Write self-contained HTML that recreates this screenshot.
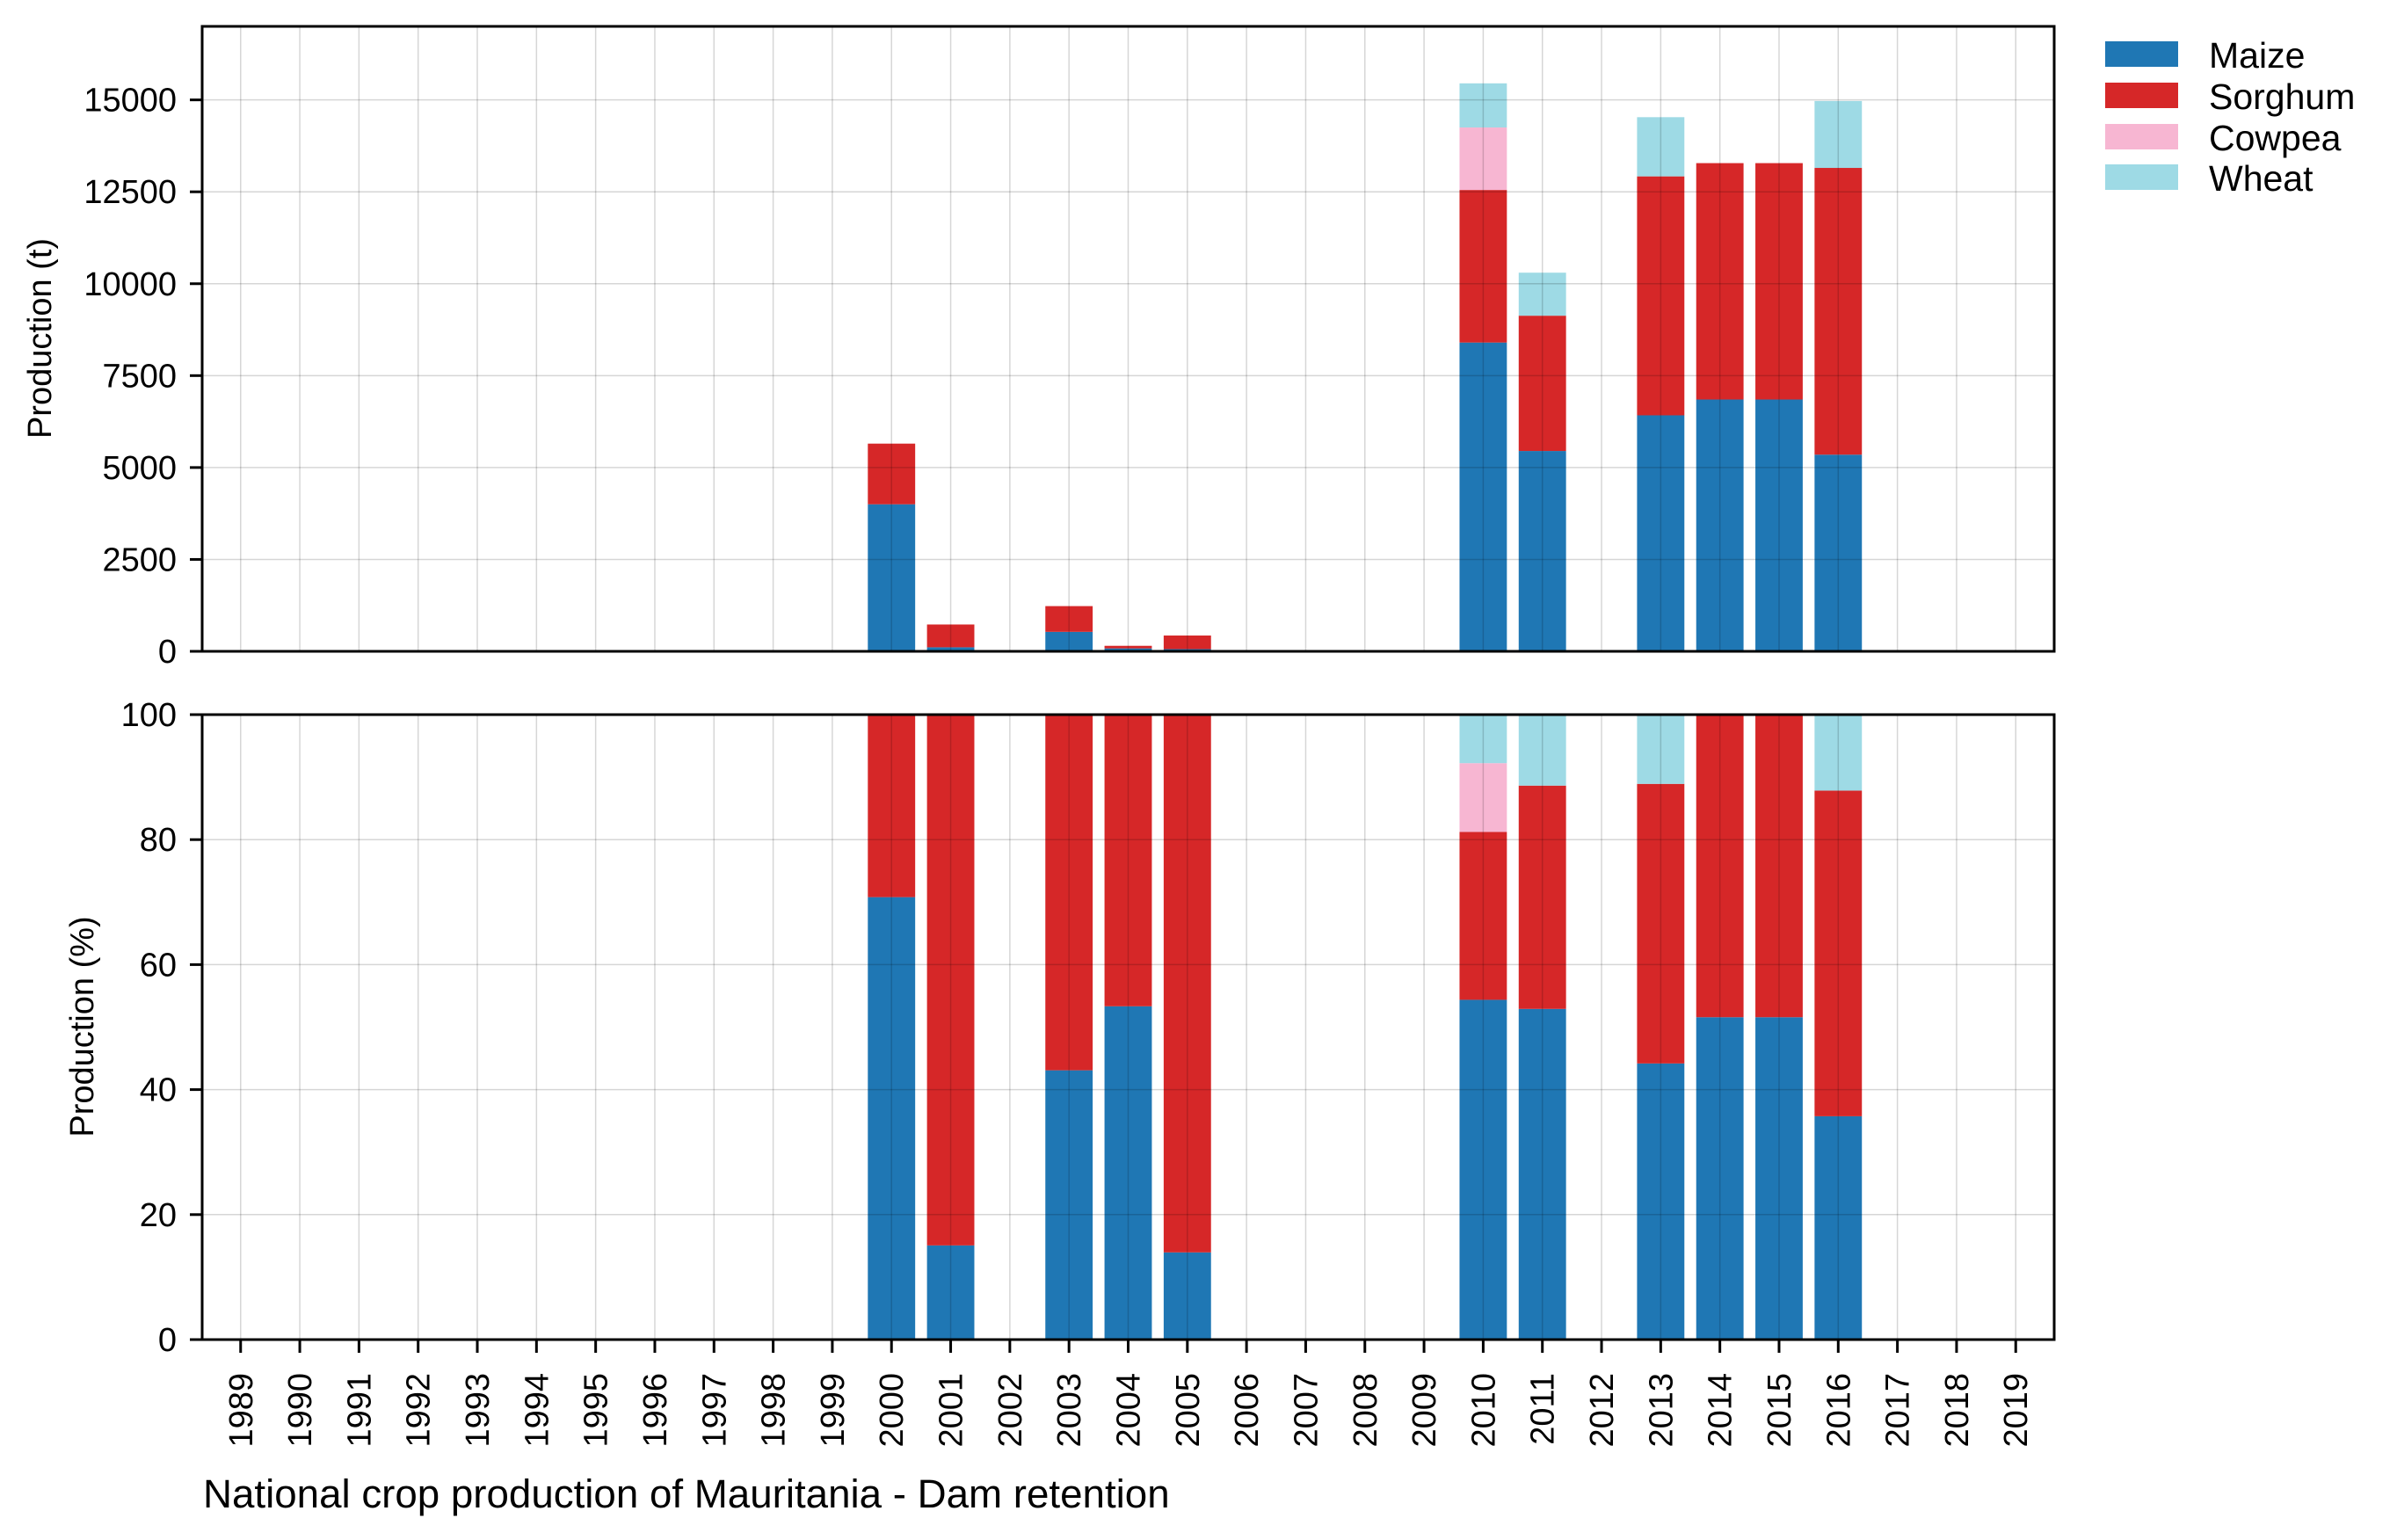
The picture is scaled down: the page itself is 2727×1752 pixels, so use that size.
<!DOCTYPE html>
<html><head><meta charset="utf-8"><style>
html,body{margin:0;padding:0;background:#fff;}
svg{display:block;font-family:"Liberation Sans",Arial,sans-serif;}
</style></head><body>
<svg id="chart" width="2727" height="1752" viewBox="0 0 2727 1752" xmlns="http://www.w3.org/2000/svg">
<g id="top"></g>
<g id="bot"></g>
<text x="0" y="0" transform="translate(58,385) rotate(-90)" text-anchor="middle" font-size="38">Production (t)</text>
<text x="0" y="0" transform="translate(106,1168) rotate(-90)" text-anchor="middle" font-size="38">Production (%)</text>
<text x="231" y="1715" font-size="45.7">National crop production of Mauritania - Dam retention</text>
<g>
<rect x="2395" y="47" width="83" height="29" fill="#1f77b4"/>
<text x="2513" y="77" font-size="41">Maize</text>
<rect x="2395" y="94" width="83" height="29" fill="#d62728"/>
<text x="2513" y="124" font-size="41">Sorghum</text>
<rect x="2395" y="141" width="83" height="29" fill="#f7b6d2"/>
<text x="2513" y="171" font-size="41">Cowpea</text>
<rect x="2395" y="187" width="83" height="29" fill="#9edae5"/>
<text x="2513" y="217" font-size="41">Wheat</text>
</g>
</svg>
<script>
const years = [1989,1990,1991,1992,1993,1994,1995,1996,1997,1998,1999,2000,2001,2002,2003,2004,2005,2006,2007,2008,2009,2010,2011,2012,2013,2014,2015,2016,2017,2018,2019];
const maize   = [0,0,0,0,0,0,0,0,0,0,0,4000,110,0,530,80,60,0,0,0,0,8400,5450,0,6420,6850,6850,5350,0,0,0];
const sorghum = [0,0,0,0,0,0,0,0,0,0,0,1650,620,0,700,70,370,0,0,0,0,4150,3680,0,6500,6430,6430,7800,0,0,0];
const cowpea  = [0,0,0,0,0,0,0,0,0,0,0,0,0,0,0,0,0,0,0,0,0,1700,0,0,0,0,0,0,0,0,0];
const wheat   = [0,0,0,0,0,0,0,0,0,0,0,0,0,0,0,0,0,0,0,0,0,1200,1170,0,1610,0,0,1820,0,0,0];
const topTicks = [0,2500,5000,7500,10000,12500,15000];
const botTicks = [0,20,40,60,80,100];
const topMax = 17000;

const NS='http://www.w3.org/2000/svg';
const L=230,R=2337,step=(R-L)/(years.length-1+1.3);
function xAt(i){return L+0.65*step+i*step;}
const series=[{n:'maize',v:maize,c:'#1f77b4'},{n:'sorghum',v:sorghum,c:'#d62728'},{n:'cowpea',v:cowpea,c:'#f7b6d2'},{n:'wheat',v:wheat,c:'#9edae5'}];
function mk(p,t,a){const e=document.createElementNS(NS,t);for(const k in a)e.setAttribute(k,a[k]);p.appendChild(e);return e;}
function panel(g,top,bot,max,ticks,pct,xlabels){
  const y=v=>bot-(v/max)*(bot-top);
  series.forEach(s=>{
    years.forEach((yr,i)=>{
      let total=0,base=0;series.forEach(t=>total+=t.v[i]);
      if(!s.v[i]||!total)return;
      for(const t of series){if(t===s)break;base+=t.v[i];}
      let b=base,v=s.v[i];if(pct){b=base/total*100;v=v/total*100;}
      const r=mk(g,'rect',{x:xAt(i)-0.4*step,width:0.8*step,y:y(b+v),height:y(b)-y(b+v),fill:s.c});
      
      
    });
  });
  years.forEach((yr,i)=>{
    const l=mk(g,'line',{x1:xAt(i),x2:xAt(i),y1:top,y2:bot,stroke:'rgba(0,0,0,0.16)','stroke-width':1.5});
    
    
  });
  ticks.forEach(t=>{
    const l=mk(g,'line',{x1:L,x2:R,y1:y(t),y2:y(t),stroke:'rgba(0,0,0,0.16)','stroke-width':1.5});
    
    
    const tk=mk(g,'line',{x1:L-14,x2:L,y1:y(t),y2:y(t),stroke:'#000','stroke-width':3});
    
    
    const tx=mk(g,'text',{x:L-29,y:y(t)+13,'text-anchor':'end','font-size':38});
    tx.textContent=t;
    
    
  });
  const fr=mk(g,'rect',{x:L,y:top,width:R-L,height:bot-top,fill:'none',stroke:'#000','stroke-width':3});
  
  
  if(xlabels){
    years.forEach((yr,i)=>{
      const tk=mk(g,'line',{x1:xAt(i),x2:xAt(i),y1:bot,y2:bot+15,stroke:'#000','stroke-width':3});
      
      
      const tx=mk(g,'text',{x:0,y:0,transform:'translate('+(xAt(i)+13)+','+(bot+38)+') rotate(-90)','text-anchor':'end','font-size':38});
      tx.textContent=yr;
      
      
    });
  }
}
panel(document.getElementById('top'),30,741,topMax,topTicks,false,false);
panel(document.getElementById('bot'),813,1524,100,botTicks,true,true);
</script>
</body></html>
